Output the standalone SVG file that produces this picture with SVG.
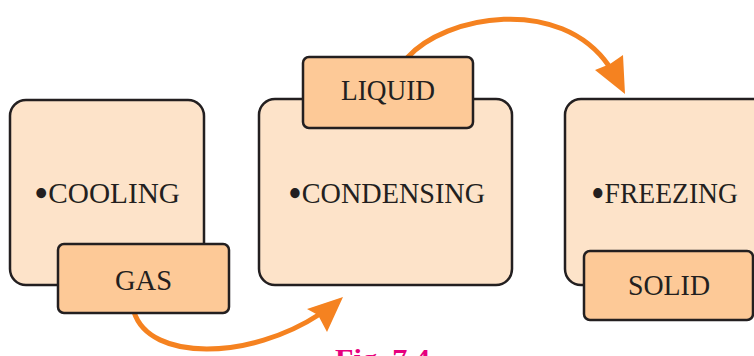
<svg xmlns="http://www.w3.org/2000/svg" width="754" height="356" viewBox="0 0 754 356">
<style>
.box{fill:#fde3c9;stroke:#231f20;stroke-width:2.5}
.tab{fill:#fdc997;stroke:#231f20;stroke-width:2.5}
.t{font-family:"Liberation Serif",serif;font-size:30px;fill:#231f20}
.b{font-size:42px}
.arr{fill:none;stroke:#f58220;stroke-width:5}
.head{fill:#f58220}
</style>
<rect width="754" height="356" fill="#ffffff"/>
<g id="connectors">
<path class="arr" d="M134,312 C150,362 250,360 320,314"/>
<polygon class="head" points="343,297 307,309 318,315 327,332"/>
<path class="arr" d="M407,58 C445,15 560,-5 609,66"/>
<polygon class="head" points="625,94 595,70 610,64 623,55"/>
</g>
<g id="cooling">
<rect class="box" x="10" y="100" width="194" height="185" rx="16"/>
<text class="t" x="34" y="203" textLength="146" lengthAdjust="spacingAndGlyphs"><tspan class="b" dy="4">•</tspan><tspan dy="-4">COOLING</tspan></text>
</g>
<g id="gas">
<rect class="tab" x="58" y="244" width="171" height="69" rx="6"/>
<text class="t" x="115" y="290" textLength="57" lengthAdjust="spacingAndGlyphs">GAS</text>
</g>
<g id="condensing">
<rect class="box" x="259" y="99" width="253" height="186" rx="16"/>
<text class="t" x="288" y="203" textLength="197" lengthAdjust="spacingAndGlyphs"><tspan class="b" dy="4">•</tspan><tspan dy="-4">CONDENSING</tspan></text>
</g>
<g id="liquid">
<rect class="tab" x="303" y="57" width="170" height="71" rx="6"/>
<text class="t" x="341" y="100" textLength="94" lengthAdjust="spacingAndGlyphs">LIQUID</text>
</g>
<g id="freezing">
<rect class="box" x="565" y="99" width="220" height="186" rx="16"/>
<text class="t" x="591" y="203" textLength="147" lengthAdjust="spacingAndGlyphs"><tspan class="b" dy="4">•</tspan><tspan dy="-4">FREEZING</tspan></text>
</g>
<g id="solid">
<rect class="tab" x="584" y="251" width="169" height="69" rx="6"/>
<text class="t" x="628" y="295" textLength="82" lengthAdjust="spacingAndGlyphs">SOLID</text>
</g>
<text x="335" y="368" font-family="Liberation Serif,serif" font-weight="bold" font-size="28" fill="#e6007e" textLength="95" lengthAdjust="spacingAndGlyphs">Fig. 7.4</text>
</svg>
